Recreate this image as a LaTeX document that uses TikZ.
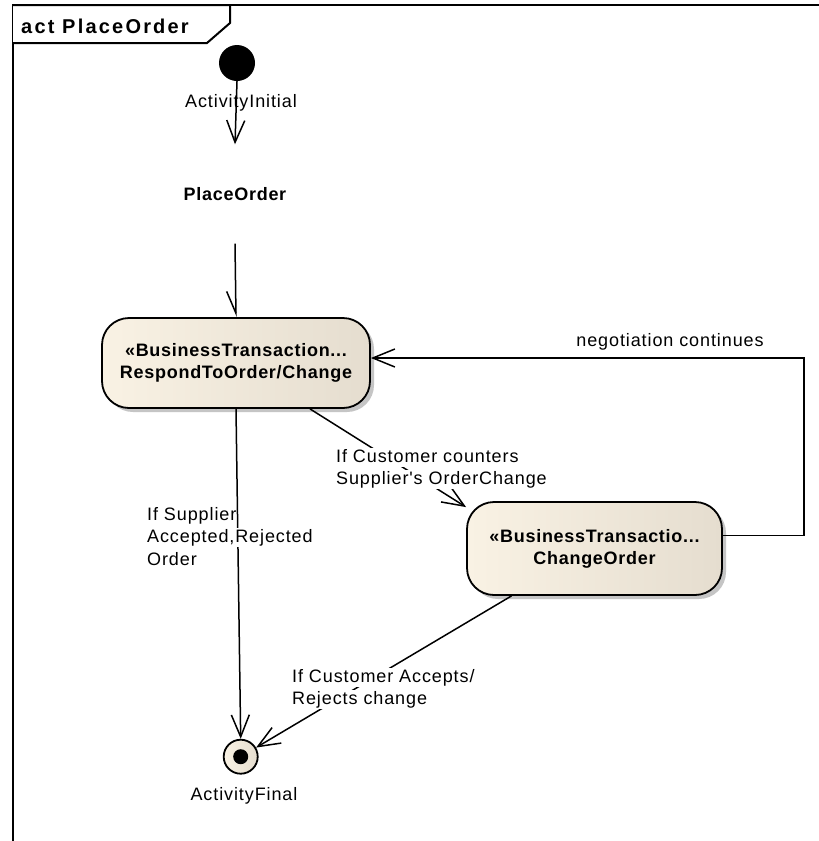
\documentclass[tikz,border=0pt]{standalone}
\usepackage{fontspec}
\usetikzlibrary{arrows.meta,shadows}
\setmainfont{Liberation Sans}
\newfontfamily\lblfam[LetterSpace=5]{Liberation Sans}
\newfontfamily\actfam[LetterSpace=4]{Liberation Sans}
\newfontfamily\headfam[LetterSpace=11]{Liberation Sans}
\newcommand\lblfnt{\lblfam\fontsize{18}{22.5}\selectfont}
\newcommand\actfnt{\actfam\bfseries\fontsize{18}{22}\selectfont}
\newcommand\headfnt{\headfam\bfseries\fontsize{20}{24}\selectfont}
% guard text: each label line sits on its own white box
\setlength\fboxsep{0pt}
\newcommand\clr[1]{\colorbox{white}{\rule[-0.25em]{0pt}{1.05em}#1}}
\definecolor{actL}{RGB}{249,242,228}
\definecolor{actR}{RGB}{229,221,207}
\begin{document}
\begin{tikzpicture}[x=1pt,y=-1pt,
  frame/.style={draw=black, line width=2pt},
  lbl/.style={font=\lblfnt, inner sep=0pt},
  arr/.style={line width=1.5pt, -{Straight Barb[length=22pt,width=18pt]}},
  halfarr/.style={line width=1.5pt, -{Straight Barb[harpoon,swap,length=22pt,width=18pt]}},
  action/.style={rectangle, rounded corners=27pt, draw=black, line width=1.8pt,
    left color=actL, right color=actR, align=center, font=\actfnt,
    drop shadow={shadow xshift=4pt, shadow yshift=-4pt, fill=black!45}},
  initial/.style={circle, fill=black, minimum size=36pt, inner sep=0pt},
  final/.style={circle, draw=black, line width=1.8pt, left color=actL, right color=actR,
    minimum size=34pt, inner sep=0pt}]
\useasboundingbox (0,0) rectangle (819,841);
\clip (0,0) rectangle (819,841);
\fill[white] (0,0) rectangle (819,841);

% activity frame and its name tab
\draw[frame] (13,850) -- (13,5) -- (830,5);
\draw[frame, fill=white] (13,5) -- (230,5) -- (230,23) -- (207,43) -- (13,43);
\node[anchor=base west, font=\headfnt, inner sep=0pt] (title) at (21,33) {act PlaceOrder};

% nodes
\node[initial] (init) at (237,63) {};
\node[font=\actfnt, minimum width=110pt, minimum height=99pt, inner sep=0pt] (place) at (235,194) {PlaceOrder};
\node[action, minimum width=268pt, minimum height=90pt] (respond) at (236,363)
  {«BusinessTransaction...\\RespondToOrder/Change};
\node[action, minimum width=255pt, minimum height=93pt] (change) at (594.5,548.5)
  {«BusinessTransactio...\\ChangeOrder};
\node[final] (final) at (240.7,756.7) {};
\fill (final.center) circle (7.5pt);

% flows
\draw[arr] (init.south) -- (place.north);
\draw[halfarr] (place.south) -- (respond.north);
\draw[arr] (respond.south) -- (final.north);
\draw[arr] ([xshift=74pt]respond.south) -- ([yshift=-6pt]change.north west);
\draw[arr] ([xshift=-83pt]change.south) -- (final);
\draw[arr] ([yshift=13pt]change.east) -- ++(81,0) |- ([yshift=5pt]respond.east);

% labels
\node[lbl, anchor=base] (initlbl) at (241,107) {ActivityInitial};
\node[lbl, anchor=base] (finallbl) at (244,800) {ActivityFinal};
\node[lbl, anchor=base] (neglbl) at (670,346) {negotiation continues};
\node[lbl, anchor=north west, align=left] (supplbl) at (147,505.6)
  {\clr{If Supplier}\\\clr{Accepted,Rejected}\\\clr{Order}};
\node[lbl, anchor=north west, align=left] (custlbl) at (336,447.6)
  {\clr{If Customer counters}\\\clr{Supplier's OrderChange}};
\node[lbl, anchor=north west, align=left] (acclbl) at (292,667.6)
  {\clr{If Customer Accepts/}\\\clr{Rejects change}};
\end{tikzpicture}
\end{document}
